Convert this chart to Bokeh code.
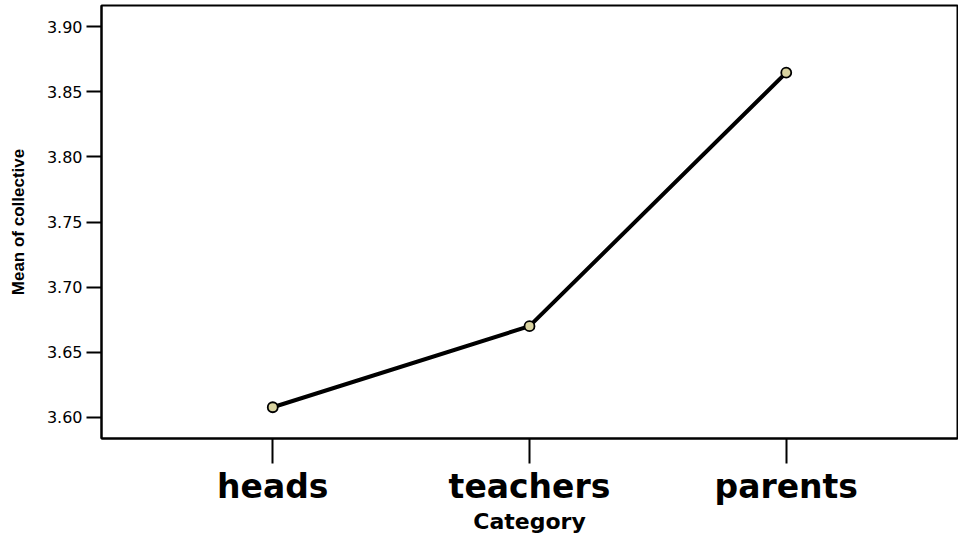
from bokeh.plotting import figure
from bokeh.models import Range1d, FixedTicker, NumeralTickFormatter, ColumnDataSource
from bokeh.embed import file_html
from bokeh.resources import INLINE

categories = ["heads", "teachers", "parents"]
means = [3.6077, 3.6700, 3.8647]
y_ticks = [3.60, 3.65, 3.70, 3.75, 3.80, 3.85, 3.90]
y_title = "Mean of collective"
x_title = "Category"

xs = list(range(len(categories)))
src = ColumnDataSource(dict(x=xs, y=means))

p = figure(width=958, height=536, output_backend="svg", toolbar_location=None,
           x_range=Range1d(-0.667, len(categories) - 1 + 0.667),
           y_range=Range1d(3.5837, 3.9163),
           min_border_left=101, min_border_right=1, min_border_top=5, min_border_bottom=0)

p.line("x", "y", source=src, line_color="black", line_width=4)
p.scatter("x", "y", source=src, marker="circle", size=10, fill_color="#d9d3a0",
          line_color="black", line_width=1.8)

p.grid.visible = False
p.outline_line_color = "black"
p.outline_line_width = 2
p.outline_line_alpha = 1

xa = p.xaxis[0]
xa.ticker = FixedTicker(ticks=xs)
xa.major_label_overrides = {i: c for i, c in enumerate(categories)}
xa.minor_tick_line_color = None
xa.major_tick_in = 0
xa.major_tick_out = 25
xa.major_tick_line_width = 2
xa.major_tick_line_color = "black"
xa.axis_line_width = 2
xa.axis_line_color = "black"
xa.major_label_text_font = "DejaVu Sans"
xa.major_label_text_font_style = "bold"
xa.major_label_text_font_size = "33px"
xa.major_label_text_color = "black"
xa.major_label_standoff = 3
xa.axis_label = x_title
xa.axis_label_text_font = "DejaVu Sans"
xa.axis_label_text_font_style = "bold"
xa.axis_label_text_font_size = "22px"
xa.axis_label_text_color = "black"
xa.axis_label_standoff = 0

ya = p.yaxis[0]
ya.ticker = FixedTicker(ticks=y_ticks)
ya.formatter = NumeralTickFormatter(format="0.00")
ya.minor_tick_line_color = None
ya.major_tick_in = 0
ya.major_tick_out = 15
ya.major_tick_line_width = 2
ya.major_tick_line_color = "black"
ya.axis_line_width = 2
ya.axis_line_color = "black"
ya.major_label_text_font = "DejaVu Sans"
ya.major_label_text_font_size = "16px"
ya.major_label_text_color = "black"
ya.major_label_standoff = 4
ya.axis_label = y_title
ya.axis_label_text_font = "Liberation Sans"
ya.axis_label_text_font_style = "bold"
ya.axis_label_text_font_size = "17px"
ya.axis_label_text_color = "black"
ya.axis_label_standoff = 16

open("out.html", "w").write(file_html(p, INLINE))
